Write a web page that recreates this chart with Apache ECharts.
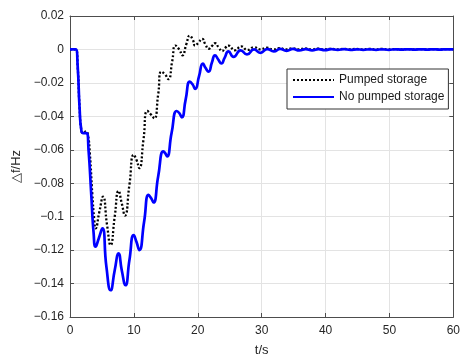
<!DOCTYPE html>
<html>
<head>
<meta charset="utf-8">
<script src="https://cdn.jsdelivr.net/npm/echarts@6/dist/echarts.min.js"></script>
<style>
  html, body { margin: 0; padding: 0; background: #fff; }
  #chart { width: 463px; height: 362px; }
</style>
</head>
<body>
<div id="chart"></div>
<script>
// x ticks (s) and y ticks (Hz)
var xTicks = [0, 10, 20, 30, 40, 50, 60];
var yTicks = [-0.16, -0.14, -0.12, -0.1, -0.08, -0.06, -0.04, -0.02, 0, 0.02];

var seriesNames = ['Pumped storage', 'No pumped storage'];

// [t, Δf]
var pumped = [
  [0, 0], [0.9, 0], [1.2, -0.01], [1.5, -0.035], [1.8, -0.049], [2.1, -0.05], [2.5, -0.049], [2.8, -0.051],
  [3.1, -0.062], [3.5, -0.087], [3.8, -0.102], [4.0, -0.107], [4.6, -0.097], [5.17, -0.088],
  [5.8, -0.105], [6.36, -0.117], [7.0, -0.1], [7.6, -0.0846], [8.1, -0.092], [8.6, -0.0993],
  [9.3, -0.081], [9.97, -0.063], [10.4, -0.066], [10.85, -0.071], [11.5, -0.054], [12.1, -0.0368],
  [12.7, -0.039], [13.2, -0.0412], [13.8, -0.027], [14.3, -0.0133], [14.9, -0.015], [15.4, -0.0178],
  [16.0, -0.007], [16.5, 0.0023], [17.1, 0.0], [17.6, -0.0035], [18.2, 0.003], [18.76, 0.0082],
  [19.2, 0.006], [19.6, 0.0023], [20.1, 0.004], [20.7, 0.0063], [21.2, 0.003], [21.7, 0.0004],
  [22.2, 0.002], [22.7, 0.0037], [23.3, 0.001], [23.8, -0.001], [24.3, 0.001], [24.8, 0.0023],
  [25.8, -0.0005], [26.8, 0.0018], [27.8, -0.0003], [28.8, 0.0013], [29.8, 0.0], [30.8, 0.001],
  [31.8, 0.0], [32.8, 0.0008], [33.8, 0.0], [34.8, 0.0007], [35.8, 0.0], [36.8, 0.0006],
  [37.8, 0.0], [38.8, 0.0005], [39.8, 0.0], [40.8, 0.0004], [41.8, 0.0], [42.8, 0.0004],
  [43.8, 0.0], [44.8, 0.0003], [45.8, 0.0], [46.8, 0.0003], [47.8, 0.0], [48.8, 0.0003],
  [49.8, 0.0], [50.8, 0.0002], [51.8, 0.0], [52.8, 0.0002], [53.8, 0.0], [54.8, 0.0002],
  [55.8, 0.0], [56.8, 0.0002], [57.8, 0.0], [58.8, 0.0002], [60, 0.0001]
];

var noPumped = [
  [0, 0], [0.9, 0], [1.2, -0.01], [1.5, -0.035], [1.8, -0.049], [2.1, -0.05], [2.6, -0.05],
  [2.9, -0.06], [3.3, -0.085], [3.7, -0.11], [4.0, -0.118], [4.5, -0.113], [5.07, -0.107],
  [5.7, -0.13], [6.36, -0.144], [7.0, -0.132], [7.6, -0.122], [8.1, -0.132], [8.68, -0.141],
  [9.3, -0.126], [9.97, -0.111], [10.4, -0.115], [10.85, -0.12], [11.6, -0.103], [12.3, -0.087],
  [12.7, -0.089], [13.07, -0.0915], [13.8, -0.076], [14.6, -0.061], [14.9, -0.062], [15.2, -0.064],
  [15.9, -0.05], [16.7, -0.0368], [17.1, -0.038], [17.5, -0.0406], [18.1, -0.03], [18.76, -0.0192],
  [19.2, -0.021], [19.6, -0.0236], [20.2, -0.016], [20.8, -0.0084], [21.2, -0.011], [21.7, -0.0133],
  [22.2, -0.008], [22.7, -0.0035], [23.2, -0.006], [23.7, -0.0084], [24.2, -0.005], [24.8, -0.0012],
  [25.6, -0.0045], [26.7, -0.0005], [27.7, -0.003], [28.8, 0.0], [29.8, -0.002], [30.9, 0.0002],
  [31.9, -0.0012], [32.9, 0.0003], [33.9, -0.0008], [34.9, 0.0003], [35.9, -0.0006], [36.9, 0.0002],
  [37.9, -0.0005], [38.9, 0.0002], [39.9, -0.0004], [40.9, 0.0002], [41.9, -0.0003], [42.9, 0.0002],
  [43.9, -0.0003], [44.9, 0.0001], [45.9, -0.0002], [46.9, 0.0001], [47.9, -0.0002], [48.9, 0.0001],
  [49.9, -0.0002], [50.9, 0.0001], [51.9, -0.0001], [52.9, 0.0001], [53.9, -0.0001], [54.9, 0.0001],
  [55.9, -0.0001], [56.9, 0.0001], [57.9, -0.0001], [58.9, 0.0001], [60, 0.0]
];

var chart = echarts.init(document.getElementById('chart'));

var fmtY = function (v) {
  var s = String(Number(v.toFixed(2)));
  return s.replace('-', '\u2212');
};

var axisCol = '#4d4d4d';
var gridCol = '#e3e3e3';
var labelStyle = { color: '#262626', fontSize: 12, fontFamily: 'Liberation Sans, Arial, sans-serif' };

chart.setOption({
  animation: false,
  backgroundColor: '#fff',
  textStyle: { fontFamily: 'Liberation Sans, Arial, sans-serif' },
  grid: { left: 70, right: 6, top: 16, bottom: 39, show: false },
  legend: {
    data: seriesNames,
    orient: 'vertical',
    left: 287,
    top: 69,
    padding: [5, 4, 6, 5],
    itemGap: 5,
    itemWidth: 41,
    itemHeight: 14,
    backgroundColor: '#fff',
    borderColor: '#333',
    borderWidth: 1,
    borderRadius: 0,
    itemStyle: { color: 'rgba(0,0,0,0)', borderColor: 'rgba(0,0,0,0)', borderWidth: 0 },
    textStyle: { color: '#1a1a1a', fontSize: 12 }
  },
  xAxis: [{
    type: 'value',
    min: xTicks[0],
    max: xTicks[xTicks.length - 1],
    interval: 10,
    name: 't/s',
    nameLocation: 'middle',
    nameGap: 27,
    nameTextStyle: { color: '#262626', fontSize: 13 },
    axisLine: { show: true, onZero: false, lineStyle: { color: axisCol, width: 1 } },
    axisTick: { show: true, inside: true, length: 4, lineStyle: { color: axisCol } },
    axisLabel: Object.assign({ margin: 8 }, labelStyle),
    splitLine: { show: true, lineStyle: { color: gridCol, width: 1 } }
  }, {
    type: 'value',
    position: 'top',
    min: xTicks[0],
    max: xTicks[xTicks.length - 1],
    interval: 10,
    axisLine: { show: true, onZero: false, lineStyle: { color: axisCol, width: 1 } },
    axisTick: { show: true, inside: true, length: 4, lineStyle: { color: axisCol } },
    axisLabel: { show: false },
    splitLine: { show: false }
  }],
  yAxis: [{
    type: 'value',
    min: yTicks[0],
    max: yTicks[yTicks.length - 1],
    interval: 0.02,
    name: '\u25B3f/Hz',
    nameLocation: 'middle',
    nameGap: 46,
    nameRotate: 90,
    nameTextStyle: { color: '#262626', fontSize: 13 },
    axisLine: { show: true, onZero: false, lineStyle: { color: axisCol, width: 1 } },
    axisTick: { show: true, inside: true, length: 4, lineStyle: { color: axisCol } },
    axisLabel: Object.assign({ margin: 6, formatter: fmtY }, labelStyle),
    splitLine: { show: true, lineStyle: { color: gridCol, width: 1 } }
  }, {
    type: 'value',
    position: 'right',
    min: yTicks[0],
    max: yTicks[yTicks.length - 1],
    interval: 0.02,
    axisLine: { show: true, onZero: false, lineStyle: { color: axisCol, width: 1 } },
    axisTick: { show: true, inside: true, length: 4, lineStyle: { color: axisCol } },
    axisLabel: { show: false },
    splitLine: { show: false }
  }],
  series: [{
    name: seriesNames[0],
    type: 'line',
    data: pumped,
    showSymbol: false,
    symbol: 'none',
    smooth: 0.55,
    lineStyle: { color: '#000', width: 2.3, type: [2, 2] },
    itemStyle: { color: '#000' }
  }, {
    name: seriesNames[1],
    type: 'line',
    data: noPumped,
    showSymbol: false,
    symbol: 'none',
    smooth: 0.55,
    lineStyle: { color: '#0000ff', width: 2.7 },
    itemStyle: { color: '#0000ff' }
  }]
});
</script>
</body>
</html>
